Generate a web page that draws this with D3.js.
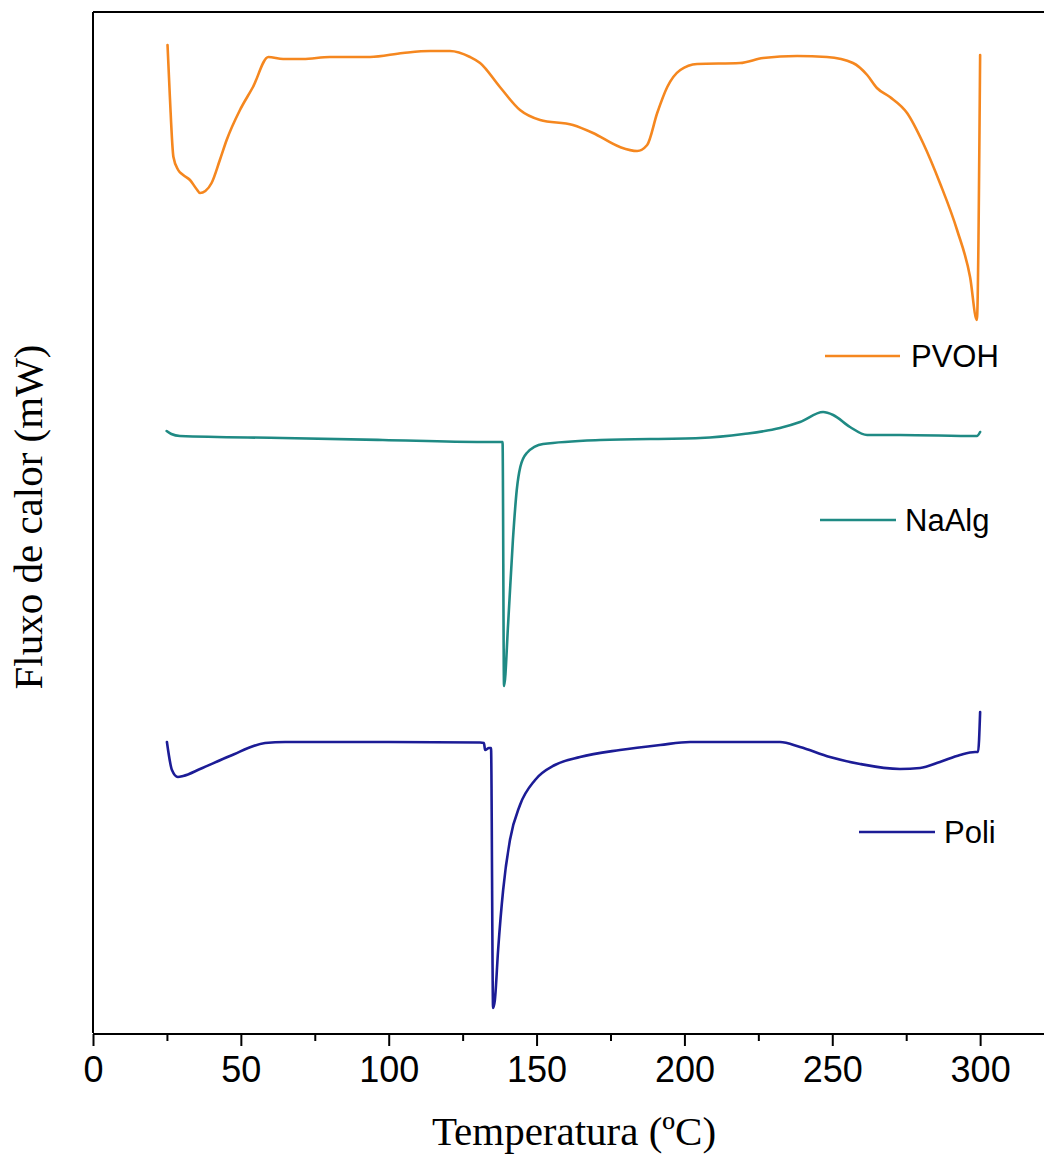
<!DOCTYPE html>
<html>
<head>
<meta charset="utf-8">
<script src="https://cdn.jsdelivr.net/npm/d3@7"></script>
<style>
  html, body { margin: 0; padding: 0; background: #fff; }
  svg { display: block; }
</style>
</head>
<body>
<svg id="chart" width="1044" height="1154"></svg>
<script>
// DSC curves: temperature (ºC) and stacked heat flow (mW, offset per sample)
const pvohT = [25.2, 26.0, 27.2, 28.8, 30.5, 32.8, 35.0, 36.2, 38.0, 40.1, 42.9, 45.2, 49.7, 54.1, 59.3, 64.3, 71.0, 80.1, 93.7, 104.8, 114.0, 120.7, 127.5, 130.9, 137.6, 144.4, 151.2, 162.3, 169.1, 178.2, 184.0, 187.4, 190.8, 194.2, 198.6, 204.3, 218.8, 226.6, 238.1, 248.2, 257.0, 261.8, 265.1, 269.5, 275.3, 280.7, 286.4, 292.2, 296.6, 298.9, 300.0];
const pvohV = [9.88, 9.36, 8.76, 8.63, 8.58, 8.53, 8.44, 8.40, 8.42, 8.50, 8.73, 8.93, 9.23, 9.46, 9.76, 9.74, 9.74, 9.76, 9.76, 9.80, 9.82, 9.82, 9.76, 9.70, 9.46, 9.23, 9.13, 9.08, 9.00, 8.86, 8.82, 8.88, 9.20, 9.46, 9.63, 9.69, 9.70, 9.75, 9.77, 9.76, 9.70, 9.58, 9.45, 9.36, 9.20, 8.90, 8.50, 8.03, 7.56, 7.13, 9.78];

const naalgT = [24.9, 26.5, 29.4, 64.0, 98.0, 131.9, 138.5, 139.0, 140.4, 142.0, 143.3, 144.5, 146.7, 152.2, 171.5, 205.3, 220.0, 232.3, 239.1, 246.9, 250.3, 256.0, 261.8, 272.9, 298.9, 300.0];
const naalgV = [6.02, 5.99, 5.97, 5.95, 5.93, 5.91, 5.91, 3.47, 4.10, 4.93, 5.43, 5.66, 5.80, 5.89, 5.93, 5.95, 5.99, 6.05, 6.11, 6.21, 6.18, 6.06, 5.98, 5.98, 5.97, 6.01];

const poliT = [25.0, 26.7, 28.7, 30.5, 36.2, 46.3, 58.2, 65.0, 100.0, 130.9, 132.2, 132.6, 133.9, 134.6, 135.3, 135.9, 137.0, 138.7, 141.0, 144.4, 149.5, 156.2, 164.7, 178.2, 191.8, 201.9, 232.3, 239.1, 249.2, 259.4, 272.9, 279.7, 286.4, 293.2, 298.3, 299.3, 300.0];
const poliV = [2.91, 2.63, 2.56, 2.57, 2.64, 2.77, 2.90, 2.91, 2.91, 2.905, 2.90, 2.83, 2.85, 2.85, 0.25, 0.33, 0.83, 1.43, 1.93, 2.28, 2.53, 2.68, 2.76, 2.83, 2.88, 2.91, 2.91, 2.86, 2.76, 2.69, 2.64, 2.65, 2.71, 2.78, 2.81, 2.81, 3.21];

const seriesNames = ["PVOH", "NaAlg", "Poli"];
const seriesColors = ["#f5871f", "#1f8a84", "#1c1c96"];
const majorTicks = [0, 50, 100, 150, 200, 250, 300];
const minorTicks = [25, 75, 125, 175, 225, 275];
const xTitle = "Temperatura (ºC)";
const yTitle = "Fluxo de calor (mW)";

const svg = d3.select("#chart");

const x = d3.scaleLinear().domain([0, 321.6]).range([93, 1044]);
const y = d3.scaleLinear().domain([0, 10.21]).range([1033, 12]);

const series = [
  { name: seriesNames[0], color: seriesColors[0], pts: pvohT.map((t, i) => [t, pvohV[i]]) },
  { name: seriesNames[1], color: seriesColors[1], pts: naalgT.map((t, i) => [t, naalgV[i]]) },
  { name: seriesNames[2], color: seriesColors[2], pts: poliT.map((t, i) => [t, poliV[i]]) }
];

const line = d3.line()
  .x(d => x(d[0]))
  .y(d => y(d[1]))
  .curve(d3.curveMonotoneX);

svg.append("g").selectAll("path")
  .data(series)
  .join("path")
  .attr("d", d => line(d.pts))
  .attr("fill", "none")
  .attr("stroke", d => d.color)
  .attr("stroke-width", 2.6)
  .attr("stroke-linejoin", "round")
  .attr("stroke-linecap", "round");

// frame: top and left lines
svg.append("line")
  .attr("x1", x(0)).attr("x2", 1044)
  .attr("y1", y(10.21)).attr("y2", y(10.21))
  .attr("stroke", "#000").attr("stroke-width", 2);
svg.append("line")
  .attr("x1", x(0)).attr("x2", x(0))
  .attr("y1", y(10.21)).attr("y2", y(0))
  .attr("stroke", "#000").attr("stroke-width", 2);

// bottom axis with major and minor ticks
const axisY = 1034;
const gMajor = svg.append("g")
  .attr("transform", `translate(0,${axisY})`)
  .call(d3.axisBottom(x).tickValues(majorTicks).tickSize(12).tickPadding(10).tickFormat(d3.format("d")));
gMajor.select(".domain").attr("stroke-width", 2).attr("d", `M${x(0)},0H1044`);
gMajor.selectAll(".tick line").attr("stroke-width", 2);
gMajor.selectAll(".tick text")
  .attr("font-family", "'Liberation Sans', Arial, sans-serif")
  .attr("font-size", 36)
  .attr("fill", "#000")
  .attr("dy", "0.71em");

const gMinor = svg.append("g")
  .attr("transform", `translate(0,${axisY})`)
  .call(d3.axisBottom(x).tickValues(minorTicks).tickSize(7).tickFormat(""));
gMinor.select(".domain").remove();
gMinor.selectAll(".tick line").attr("stroke-width", 2);

// axis titles
svg.append("text")
  .attr("x", 574).attr("y", 1145)
  .attr("text-anchor", "middle")
  .attr("font-family", "'Liberation Serif', 'Times New Roman', serif")
  .attr("font-size", 41)
  .attr("fill", "#000")
  .text(xTitle);

svg.append("text")
  .attr("transform", "translate(42,517) rotate(-90)")
  .attr("text-anchor", "middle")
  .attr("font-family", "'Liberation Serif', 'Times New Roman', serif")
  .attr("font-size", 41)
  .attr("fill", "#000")
  .text(yTitle);

// legend entries placed beside each curve
const legendPos = [
  { x1: 825, x2: 900, ly: 356, tx: 911, ty: 367 },
  { x1: 820, x2: 896, ly: 520, tx: 905, ty: 531 },
  { x1: 859, x2: 935, ly: 832, tx: 944, ty: 843 }
];
const leg = svg.append("g").selectAll("g")
  .data(series)
  .join("g");
leg.append("line")
  .attr("x1", (d, i) => legendPos[i].x1)
  .attr("x2", (d, i) => legendPos[i].x2)
  .attr("y1", (d, i) => legendPos[i].ly)
  .attr("y2", (d, i) => legendPos[i].ly)
  .attr("stroke", d => d.color)
  .attr("stroke-width", 2.6);
leg.append("text")
  .attr("x", (d, i) => legendPos[i].tx)
  .attr("y", (d, i) => legendPos[i].ty)
  .attr("font-family", "'Liberation Sans', Arial, sans-serif")
  .attr("font-size", 31)
  .attr("fill", "#000")
  .text(d => d.name);
</script>
</body>
</html>
